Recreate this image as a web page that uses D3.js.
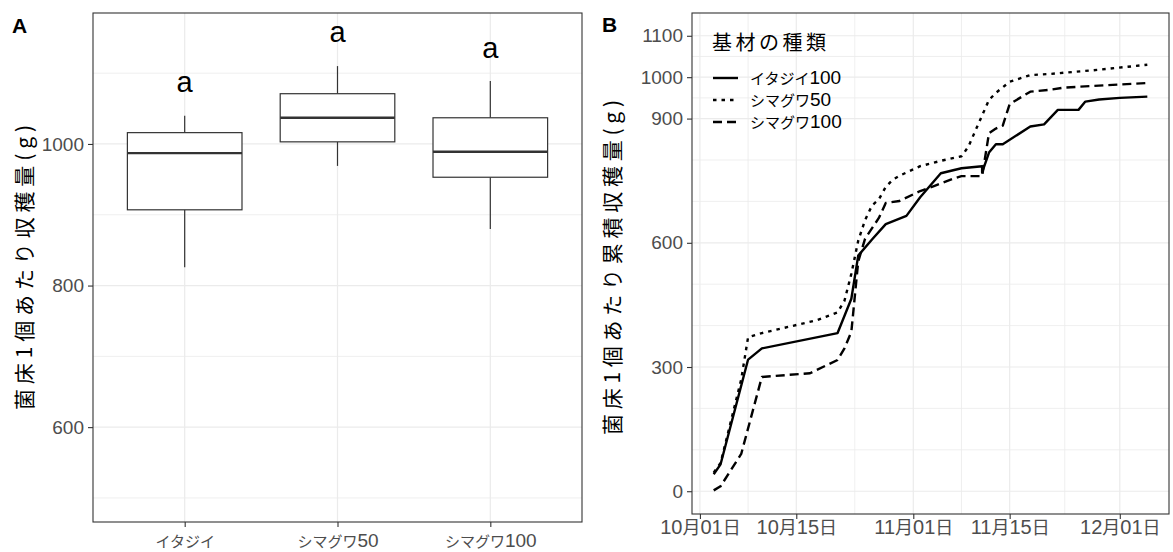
<!DOCTYPE html>
<html><head><meta charset="utf-8">
<script src="https://cdn.jsdelivr.net/npm/d3@7"></script>
<style>body{margin:0;background:#fff}svg{display:block}</style>
</head><body>
<svg id="chart" width="1173" height="552"></svg>
<script>
// ---------- Panel A data (box plot) ----------
const categories = ["イタジイ", "シマグワ50", "シマグワ100"];
const whiskerLow  = [826, 969, 880];
const q1          = [907, 1003, 953];
const medians     = [987, 1037, 989];
const q3          = [1016, 1071, 1037];
const whiskerHigh = [1040, 1110, 1089];
const sigLetters  = ["a", "a", "a"];
const letterY     = [1084, 1155, 1132];
const yTicksA     = [600, 800, 1000];
const yMinorA     = [500, 700, 900, 1100];
const yDomainA    = [466, 1185];
const yTitleA     = "菌床1個あたり収穫量(g)";

// ---------- Panel B data (cumulative lines) ----------
const seriesNames = ["イタジイ100", "シマグワ50", "シマグワ100"];
const datesItajii100 = ["2019-10-03","2019-10-04","2019-10-08","2019-10-10","2019-10-21","2019-10-23","2019-10-24","2019-10-26","2019-10-28","2019-10-31","2019-11-02","2019-11-05","2019-11-08","2019-11-11","2019-11-11","2019-11-12","2019-11-13","2019-11-14","2019-11-18","2019-11-20","2019-11-22","2019-11-25","2019-11-26","2019-11-28","2019-12-01","2019-12-05"];
const valuesItajii100 = [41, 65, 318, 345, 382, 465, 569, 608, 645, 665, 710, 768, 780, 785, 770, 818, 838, 838, 881, 886, 921, 921, 941, 946, 950, 953];
const datesShimaguwa50 = ["2019-10-03","2019-10-04","2019-10-07","2019-10-08","2019-10-10","2019-10-18","2019-10-21","2019-10-22","2019-10-23","2019-10-24","2019-10-25","2019-10-26","2019-10-27","2019-10-28","2019-10-29","2019-10-30","2019-11-02","2019-11-05","2019-11-08","2019-11-09","2019-11-10","2019-11-12","2019-11-13","2019-11-15","2019-11-18","2019-11-21","2019-11-28","2019-12-05"];
const valuesShimaguwa50 = [45, 68, 270, 372, 382, 413, 432, 460, 525, 605, 655, 690, 705, 735, 752, 762, 785, 798, 809, 832, 870, 945, 962, 989, 1005, 1008, 1018, 1030];
const datesShimaguwa100 = ["2019-10-03","2019-10-04","2019-10-07","2019-10-10","2019-10-17","2019-10-21","2019-10-22","2019-10-23","2019-10-24","2019-10-25","2019-10-27","2019-10-28","2019-10-30","2019-11-02","2019-11-04","2019-11-07","2019-11-08","2019-11-11","2019-11-12","2019-11-13","2019-11-14","2019-11-15","2019-11-16","2019-11-18","2019-11-21","2019-11-23","2019-12-05"];
const valuesShimaguwa100 = [2, 12, 90, 276, 285, 317, 345, 385, 555, 610, 660, 696, 701, 725, 737, 756, 761, 761, 865, 876, 883, 935, 945, 965, 970, 975, 986];
const xTickDates = ["2019-10-01","2019-10-15","2019-11-01","2019-11-15","2019-12-01"];
const yTicksB  = [0, 300, 600, 900, 1000, 1100];
const yMinorB  = [100, 200, 400, 500, 700, 800, 950, 1050];
const yLimitsB = [0, 1100];
const yTitleB  = "菌床1個あたり累積収穫量(g)";
const legendTitle = "基材の種類";

// ---------- setup ----------
const svg = d3.select("#chart");
const LATIN = "'Liberation Sans', Arial, sans-serif";
const CJK = "'Noto Sans CJK JP', 'Noto Sans CJK SC', sans-serif";
const GRID = "#ebebeb", DARK = "#333333", TICKTXT = "#4d4d4d";

function mixed(t, str, cjkSize, latinSize) {
  t.text(null);
  (str.match(/[\x00-\x7F]+|[^\x00-\x7F]+/g) || []).forEach(r => {
    const lat = /^[\x00-\x7F]/.test(r);
    t.append("tspan").text(r)
      .attr("font-family", lat ? LATIN : CJK)
      .attr("font-size", lat ? latinSize : cjkSize);
  });
}

// ================= Panel A =================
const A = {l: 93, r: 582, t: 13, b: 522};
const xA = d3.scalePoint().domain(categories).range([A.l, A.r]).padding(0.6);
const yA = d3.scaleLinear().domain(yDomainA).range([A.b, A.t]);
const gA = svg.append("g");

gA.selectAll(".minA").data(yMinorA).join("line")
  .attr("x1", A.l).attr("x2", A.r).attr("y1", d => yA(d)).attr("y2", d => yA(d))
  .attr("stroke", GRID).attr("stroke-width", 0.8);
gA.selectAll(".majA").data(yTicksA).join("line")
  .attr("x1", A.l).attr("x2", A.r).attr("y1", d => yA(d)).attr("y2", d => yA(d))
  .attr("stroke", GRID).attr("stroke-width", 1.2);
gA.selectAll(".vA").data(categories).join("line")
  .attr("x1", d => xA(d)).attr("x2", d => xA(d)).attr("y1", A.t).attr("y2", A.b)
  .attr("stroke", GRID).attr("stroke-width", 1.2);

const bw = xA.step() * 0.75;
const boxes = gA.selectAll(".box").data(categories.map((c, i) => ({c, i}))).join("g");
boxes.append("line")
  .attr("x1", d => xA(d.c)).attr("x2", d => xA(d.c))
  .attr("y1", d => yA(whiskerHigh[d.i])).attr("y2", d => yA(q3[d.i]))
  .attr("stroke", DARK).attr("stroke-width", 1.2);
boxes.append("line")
  .attr("x1", d => xA(d.c)).attr("x2", d => xA(d.c))
  .attr("y1", d => yA(q1[d.i])).attr("y2", d => yA(whiskerLow[d.i]))
  .attr("stroke", DARK).attr("stroke-width", 1.2);
boxes.append("rect")
  .attr("x", d => xA(d.c) - bw / 2).attr("width", bw)
  .attr("y", d => yA(q3[d.i])).attr("height", d => yA(q1[d.i]) - yA(q3[d.i]))
  .attr("fill", "#fff").attr("stroke", DARK).attr("stroke-width", 1.2);
boxes.append("line")
  .attr("x1", d => xA(d.c) - bw / 2).attr("x2", d => xA(d.c) + bw / 2)
  .attr("y1", d => yA(medians[d.i])).attr("y2", d => yA(medians[d.i]))
  .attr("stroke", DARK).attr("stroke-width", 2.4);
boxes.append("text")
  .attr("x", d => xA(d.c)).attr("y", d => yA(letterY[d.i])).attr("dy", "0.26em")
  .attr("text-anchor", "middle").attr("font-family", LATIN).attr("font-size", 29)
  .attr("fill", "#000").text(d => sigLetters[d.i]);

// axes A
const axYA = gA.append("g").attr("transform", `translate(${A.l},0)`)
  .call(d3.axisLeft(yA).tickValues(yTicksA).tickFormat(d3.format("d")).tickSize(5).tickPadding(4));
const axXA = gA.append("g").attr("transform", `translate(0,${A.b})`)
  .call(d3.axisBottom(xA).tickSize(5).tickPadding(13));
[axYA, axXA].forEach(a => {
  a.select(".domain").remove();
  a.selectAll(".tick line").attr("stroke", DARK).attr("stroke-width", 1.1);
  a.selectAll(".tick text").attr("fill", TICKTXT);
});
axYA.selectAll(".tick text").attr("font-family", LATIN).attr("font-size", 19);
axXA.selectAll(".tick text").each(function(d) { mixed(d3.select(this), d, 15, 19); });

gA.append("rect").attr("x", A.l).attr("y", A.t).attr("width", A.r - A.l).attr("height", A.b - A.t)
  .attr("fill", "none").attr("stroke", DARK).attr("stroke-width", 1.1);

svg.append("text").attr("transform", `translate(24,${(A.t + A.b) / 2}) rotate(-90)`)
  .attr("text-anchor", "middle").attr("dy", "0.36em")
  .attr("font-family", CJK).attr("font-size", 21).attr("fill", "#000")
  .attr("textLength", 285).attr("lengthAdjust", "spacing").text(yTitleA);
svg.append("text").attr("x", 12).attr("y", 33).attr("font-family", LATIN)
  .attr("font-weight", "bold").attr("font-size", 21).text("A");

// ================= Panel B =================
const B = {l: 692, r: 1169, t: 13, b: 514};
const parse = d3.timeParse("%Y-%m-%d");
const seriesDates = [datesItajii100, datesShimaguwa50, datesShimaguwa100];
const seriesVals = [valuesItajii100, valuesShimaguwa50, valuesShimaguwa100];
const dashes = [null, "3.5,5", "9,5"];
const series = seriesNames.map((n, i) => ({
  name: n, dash: dashes[i],
  pts: seriesDates[i].map((d, j) => ({date: parse(d), value: seriesVals[i][j]}))
}));
const allDates = series.flatMap(s => s.pts.map(p => +p.date));
const dMin = d3.min(allDates), dMax = d3.max(allDates), dPad = (dMax - dMin) * 0.05;
const xB = d3.scaleTime().domain([new Date(dMin - dPad), new Date(dMax + dPad)]).range([B.l, B.r]);
const yPad = (yLimitsB[1] - yLimitsB[0]) * 0.05;
const yB = d3.scaleLinear().domain([yLimitsB[0] - yPad, yLimitsB[1] + yPad]).range([B.b, B.t]);
const gB = svg.append("g");

const xt = xTickDates.map(parse);
const xMinor = d3.pairs(xt).map(([a, b]) => new Date((+a + +b) / 2));

gB.selectAll(".minBy").data(yMinorB).join("line")
  .attr("x1", B.l).attr("x2", B.r).attr("y1", d => yB(d)).attr("y2", d => yB(d))
  .attr("stroke", GRID).attr("stroke-width", 0.8);
gB.selectAll(".minBx").data(xMinor).join("line")
  .attr("x1", d => xB(d)).attr("x2", d => xB(d)).attr("y1", B.t).attr("y2", B.b)
  .attr("stroke", GRID).attr("stroke-width", 0.8);
gB.selectAll(".majBy").data(yTicksB).join("line")
  .attr("x1", B.l).attr("x2", B.r).attr("y1", d => yB(d)).attr("y2", d => yB(d))
  .attr("stroke", GRID).attr("stroke-width", 1.2);
gB.selectAll(".majBx").data(xt).join("line")
  .attr("x1", d => xB(d)).attr("x2", d => xB(d)).attr("y1", B.t).attr("y2", B.b)
  .attr("stroke", GRID).attr("stroke-width", 1.2);

const line = d3.line().x(d => xB(d.date)).y(d => yB(d.value));
gB.selectAll(".ser").data(series).join("path")
  .attr("d", d => line(d.pts)).attr("fill", "none").attr("stroke", "#000")
  .attr("stroke-width", 2.4).attr("stroke-linejoin", "round")
  .attr("stroke-dasharray", d => d.dash);

const axYB = gB.append("g").attr("transform", `translate(${B.l},0)`)
  .call(d3.axisLeft(yB).tickValues(yTicksB).tickFormat(d3.format("d")).tickSize(5).tickPadding(4));
const axXB = gB.append("g").attr("transform", `translate(0,${B.b})`)
  .call(d3.axisBottom(xB).tickValues(xt).tickFormat(d3.timeFormat("%m月%d日")).tickSize(5).tickPadding(8));
[axYB, axXB].forEach(a => {
  a.select(".domain").remove();
  a.selectAll(".tick line").attr("stroke", DARK).attr("stroke-width", 1.1);
  a.selectAll(".tick text").attr("fill", TICKTXT);
});
axYB.selectAll(".tick text").attr("font-family", LATIN).attr("font-size", 19);
axXB.selectAll(".tick text").each(function(d) {
  mixed(d3.select(this), d3.timeFormat("%m月%d日")(d), 18, 20);
});

gB.append("rect").attr("x", B.l).attr("y", B.t).attr("width", B.r - B.l).attr("height", B.b - B.t)
  .attr("fill", "none").attr("stroke", DARK).attr("stroke-width", 1.1);

// legend
const lg = gB.append("g");
lg.append("text").attr("x", 712).attr("y", 43).attr("dy", "0.36em")
  .attr("font-family", CJK).attr("font-size", 20).attr("fill", "#000")
  .attr("textLength", 114).attr("lengthAdjust", "spacing").text(legendTitle);
series.forEach((s, i) => {
  const yy = 78 + i * 22;
  lg.append("line").attr("x1", 713).attr("x2", 738).attr("y1", yy).attr("y2", yy)
    .attr("stroke", "#000").attr("stroke-width", 2.4).attr("stroke-dasharray", s.dash);
  const t = lg.append("text").attr("x", 750).attr("y", yy).attr("dy", "0.36em").attr("fill", "#000");
  mixed(t, s.name, 15, 19);
});

svg.append("text").attr("transform", `translate(612,${(B.t + B.b) / 2 + 4}) rotate(-90)`)
  .attr("text-anchor", "middle").attr("dy", "0.36em")
  .attr("font-family", CJK).attr("font-size", 21).attr("fill", "#000")
  .attr("textLength", 335).attr("lengthAdjust", "spacing").text(yTitleB);
svg.append("text").attr("x", 602).attr("y", 32).attr("font-family", LATIN)
  .attr("font-weight", "bold").attr("font-size", 21).text("B");
</script>
</body></html>
